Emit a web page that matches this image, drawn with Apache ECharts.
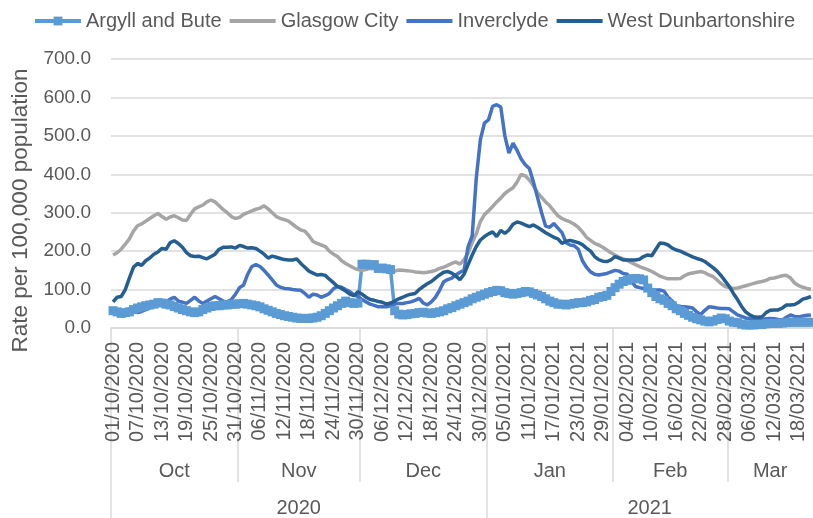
<!DOCTYPE html>
<html>
<head>
<meta charset="utf-8">
<script src="https://cdn.jsdelivr.net/npm/echarts@6/dist/echarts.min.js"></script>
<style>
  html, body { margin: 0; padding: 0; background: #fff; }
  #chart { width: 813px; height: 518px; }
</style>
</head>
<body>
<div id="chart"></div>
<script>
// axis blocks (month / year levels)
const monthNames = ['Oct', 'Nov', 'Dec', 'Jan', 'Feb', 'Mar'];
const monthDays = [31, 30, 31, 31, 28, 21];
const monthNums = [10, 11, 12, 1, 2, 3];
const monthYears = [2020, 2020, 2020, 2021, 2021, 2021];
const yearNames = ['2020', '2021'];

// 7 day rate per 100,000, one value per day from 01/10/2020
const argyll = [
  45, 42, 38, 40, 42, 48, 52, 55, 58, 60, 62, 66, 65, 62, 60, 56, 52, 48, 45, 42,
  40, 42, 48, 52, 56, 58, 58, 60, 60, 62, 62, 63, 64, 62, 60, 58, 55, 50, 46, 42,
  38, 35, 32, 30, 28, 26, 25, 25, 25, 26, 28, 32, 38, 45, 52, 58, 64, 70, 66, 64,
  65, 166, 166, 164, 165, 155, 156, 154, 152, 45, 36, 34, 35, 37, 38, 40, 41, 39, 38, 40,
  42, 45, 50, 53, 58, 62, 66, 70, 76, 80, 84, 88, 92, 95, 98, 97, 92, 90, 88, 90,
  92, 95, 94, 90, 86, 82, 76, 70, 66, 62, 62, 60, 62, 64, 66, 66, 68, 72, 74, 80,
  82, 85, 95, 105, 114, 121, 124, 128, 129, 128, 125, 104, 92, 82, 76, 72, 64, 58, 50, 45,
  38, 33, 28, 24, 21, 18, 16, 18, 22, 26, 24, 18, 15, 14, 10, 8, 8, 8, 9, 9,
  11, 12, 12, 12, 13, 14, 15, 15, 15, 15, 15, 15
];
const glasgow = [
  190, 196, 205, 218, 232, 252, 266, 271, 278, 285, 292, 298, 290, 283, 289, 292, 287, 281, 280, 296,
  310, 315, 320, 328, 333, 328, 318, 308, 300, 290, 285, 288, 296, 300, 305, 309, 312, 318, 310, 300,
  290, 285, 282, 278, 270, 262, 255, 252, 240, 225, 220, 216, 212, 200, 192, 186, 175, 168, 162, 156,
  152, 150, 152, 155, 154, 155, 153, 149, 147, 148, 151, 150, 149, 148, 146, 145, 144, 145, 147, 150,
  155, 158, 163, 168, 172, 166, 178, 195, 222, 245, 277, 295, 305, 316, 328, 338, 350, 358, 365, 380,
  400, 396, 385, 370, 352, 340, 328, 318, 305, 292, 285, 280, 276, 270, 262, 250, 236, 228, 220, 216,
  210, 203, 196, 190, 184, 180, 176, 170, 165, 160, 156, 152, 147, 141, 135, 131, 128, 128, 128, 129,
  136, 141, 143, 145, 147, 144, 138, 134, 125, 115, 108, 105, 103, 104, 107, 110, 113, 116, 119, 121,
  124, 129, 130, 133, 136, 137, 130, 117, 110, 106, 103, 101
];
const inverclyde = [
  38, 45, 43, 46, 50, 45, 40, 43, 48, 52, 57, 61, 66, 68, 75, 80, 70, 67, 64, 72,
  80, 70, 64, 70, 76, 82, 76, 70, 68, 74, 88, 105, 112, 140, 160, 165, 160, 150, 138, 125,
  112, 106, 103, 102, 100, 99, 98, 90, 80, 88, 86, 80, 84, 90, 102, 108, 106, 100, 95, 86,
  82, 74, 68, 62, 59, 55, 56, 55, 58, 63, 64, 64, 66, 68, 72, 77, 65, 60, 68, 80,
  98, 120, 126, 130, 138, 145, 150, 212, 240, 390, 490, 533, 542, 577, 581, 575, 500, 455, 481, 462,
  440, 425, 415, 380, 340, 300, 265, 262, 272, 260, 248, 222, 216, 214, 205, 175, 158, 146, 140, 138,
  140, 142, 146, 150, 148, 142, 140, 122, 108, 105, 103, 101, 100, 99, 99, 96, 80, 70, 58, 55,
  55, 54, 52, 42, 35, 46, 55, 54, 52, 51, 51, 50, 42, 34, 30, 26, 24, 22, 22, 21,
  24, 25, 24, 22, 21, 28, 34, 30, 29, 31, 33, 34
];
const westDunbartonshire = [
  68, 80, 82, 100, 130, 158, 168, 163, 175, 182, 192, 198, 207, 205, 222, 227, 220, 210, 196, 188,
  186, 187, 183, 180, 186, 192, 205, 210, 210, 211, 208, 215, 212, 208, 209, 207, 200, 192, 182, 187,
  184, 181, 178, 177, 177, 180, 168, 158, 148, 143, 138, 139, 137, 127, 118, 108, 103, 96, 88, 84,
  94, 88, 80, 74, 72, 69, 67, 62, 65, 70, 76, 80, 85, 88, 90, 100, 108, 115, 121, 130,
  138, 145, 147, 143, 135, 126, 140, 165, 190, 212, 229, 238, 245, 250, 238, 254, 246, 255, 270, 276,
  273, 268, 264, 268, 262, 255, 248, 242, 236, 232, 220, 226, 228, 225, 222, 217, 208, 200, 186, 178,
  174, 173, 177, 186, 182, 177, 177, 177, 177, 179, 186, 190, 188, 205, 221, 220, 216, 208, 203, 200,
  195, 190, 185, 181, 178, 173, 165, 157, 148, 136, 122, 108, 90, 74, 56, 42, 34, 29, 28, 29,
  40, 46, 47, 47, 52, 60, 60, 61, 67, 75, 78, 82
];

// daily date labels, built from the month blocks
const dates = [];
monthDays.forEach(function (n, m) {
  for (let d = 1; d <= n; d++) {
    dates.push(String(d).padStart(2, '0') + '/' + String(monthNums[m]).padStart(2, '0') + '/' + monthYears[m]);
  }
});

const total = dates.length;
const monthStarts = [];
const monthMids = [];
let acc = 0;
monthDays.forEach(function (n) {
  monthStarts.push(acc);
  monthMids.push(acc + n / 2);
  acc += n;
});
const yearStarts = [0, monthStarts[3]];
const yearMids = [monthStarts[3] / 2, (monthStarts[3] + total) / 2];

const textColor = '#595959';
const gridColor = '#d9d9d9';
const font = 'Liberation Sans, Arial, sans-serif';

// plain line legend icon (no symbol)
function lineItem(name) {
  return { name: name, itemStyle: { opacity: 0 }, lineStyle: { width: 4 } };
}

let myChart = echarts.init(document.getElementById('chart'));
myChart.setOption({
  animation: false,
  legend: {
    top: 6,
    left: 28,
    itemWidth: 46,
    itemHeight: 11,
    itemGap: 6,
    textStyle: { color: textColor, fontSize: 20, fontFamily: font },
    data: [
      { name: 'Argyll and Bute', lineStyle: { width: 4 } },
      lineItem('Glasgow City'),
      lineItem('Inverclyde'),
      lineItem('West Dunbartonshire')
    ]
  },
  grid: { left: 111, right: 0, top: 59, bottom: 190 },
  xAxis: [
    {
      type: 'category',
      data: dates,
      boundaryGap: true,
      axisLine: { lineStyle: { color: gridColor, width: 1.5 } },
      axisTick: { show: false },
      axisLabel: {
        interval: 5,
        rotate: 90,
        margin: 14,
        color: textColor,
        fontSize: 20,
        fontFamily: font
      }
    },
    {
      // month level
      type: 'value',
      min: 0,
      max: total,
      position: 'bottom',
      axisLine: { show: false },
      splitLine: { show: false },
      axisTick: {
        show: true,
        customValues: monthStarts,
        length: 154,
        lineStyle: { color: gridColor, width: 1.5 }
      },
      axisLabel: {
        customValues: monthMids,
        margin: 133,
        color: textColor,
        fontSize: 20,
        fontFamily: font,
        formatter: function (v) { return monthNames[monthMids.indexOf(v)]; }
      }
    },
    {
      // year level
      type: 'value',
      min: 0,
      max: total,
      position: 'bottom',
      axisLine: { show: false },
      splitLine: { show: false },
      axisTick: {
        show: true,
        customValues: yearStarts,
        length: 200,
        lineStyle: { color: gridColor, width: 1.5 }
      },
      axisLabel: {
        customValues: yearMids,
        margin: 170,
        color: textColor,
        fontSize: 20,
        fontFamily: font,
        formatter: function (v) { return yearNames[yearMids.indexOf(v)]; }
      }
    }
  ],
  yAxis: {
    type: 'value',
    min: 0,
    max: 700,
    interval: 100,
    name: 'Rate per 100,000 population',
    nameLocation: 'middle',
    nameGap: 77,
    nameTextStyle: { color: textColor, fontSize: 22.5, fontFamily: font, padding: [0, 34, 0, 0] },
    axisLine: { show: false },
    axisTick: { show: false },
    splitLine: { lineStyle: { color: gridColor, width: 1.5 } },
    axisLabel: {
      margin: 20,
      color: textColor,
      fontSize: 19,
      fontFamily: font,
      formatter: function (v) { return v.toFixed(1); }
    }
  },
  series: [
    {
      name: 'Argyll and Bute',
      type: 'line',
      data: argyll,
      symbol: 'rect',
      symbolSize: 9,
      showAllSymbol: true,
      lineStyle: { width: 3.5, color: '#5B9BD5' },
      itemStyle: { color: '#5B9BD5' }
    },
    {
      name: 'Glasgow City',
      type: 'line',
      data: glasgow,
      symbol: 'none',
      lineStyle: { width: 3.5, color: '#A5A5A5' },
      itemStyle: { color: '#A5A5A5' }
    },
    {
      name: 'Inverclyde',
      type: 'line',
      data: inverclyde,
      symbol: 'none',
      lineStyle: { width: 3.5, color: '#4472C4' },
      itemStyle: { color: '#4472C4' }
    },
    {
      name: 'West Dunbartonshire',
      type: 'line',
      data: westDunbartonshire,
      symbol: 'none',
      lineStyle: { width: 3.5, color: '#255E91' },
      itemStyle: { color: '#255E91' }
    }
  ]
});
window.addEventListener('resize', function () {
  myChart.resize();
});
</script>
</body>
</html>
